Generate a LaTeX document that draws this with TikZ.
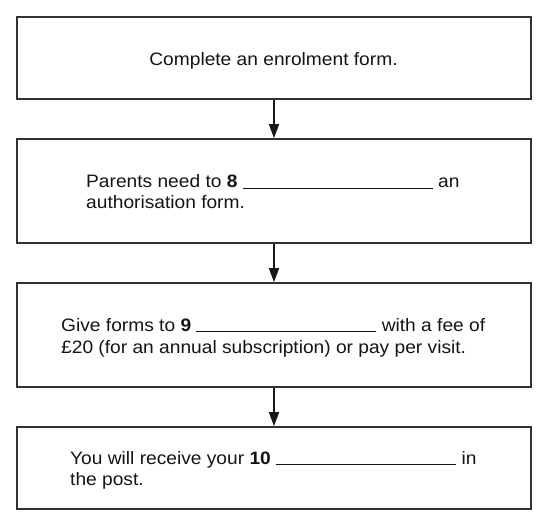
\documentclass[tikz,border=0pt]{standalone}
\usepackage{fontspec}
\setmainfont[FakeStretch=1.065]{Liberation Sans}
\usetikzlibrary{arrows.meta}
\tikzset{
  stepbox/.style={draw=black!80, line width=1.6pt, minimum width=514pt, inner sep=0pt},
  txt/.style={anchor=base west, inner sep=0pt, font=\fontsize{18}{22}\selectfont, text=black!92},
  flow/.style={draw=black!90, line width=1.5pt, -{Triangle[length=14pt,width=10pt]}},
}
\newcommand{\blank}[1]{\rule[-1.2pt]{#1}{0.9pt}}
\begin{document}
\begin{tikzpicture}[x=1pt,y=-1pt]
\useasboundingbox (0,0) rectangle (554,528);
\node[stepbox, minimum height=82pt] (b1) at (274,58) {};
\node[stepbox, minimum height=104pt] (b2) at (274,191) {};
\node[stepbox, minimum height=104pt] (b3) at (274,335) {};
\node[stepbox, minimum height=82pt] (b4) at (274,468) {};
\node[txt, anchor=base] (t1) at (273.5,65) {Complete an enrolment form.};
\node[txt] (t2a) at (86,187.5) {Parents need to \textbf{8} \blank{190pt} an};
\node[txt] (t2b) at (86,208.5) {authorisation form.};
\node[txt] (t3a) at (61,331) {Give forms to \textbf{9} \blank{180pt} with a fee of};
\node[txt] (t3b) at (61,353) {£20 (for an annual subscription) or pay per visit.};
\node[txt] (t4a) at (70,464) {You will receive your \textbf{10} \blank{180pt} in};
\node[txt] (t4b) at (70,485.5) {the post.};
\draw[flow] (b1.south) -- (b2.north);
\draw[flow] (b2.south) -- (b3.north);
\draw[flow] (b3.south) -- (b4.north);
\end{tikzpicture}
\end{document}
